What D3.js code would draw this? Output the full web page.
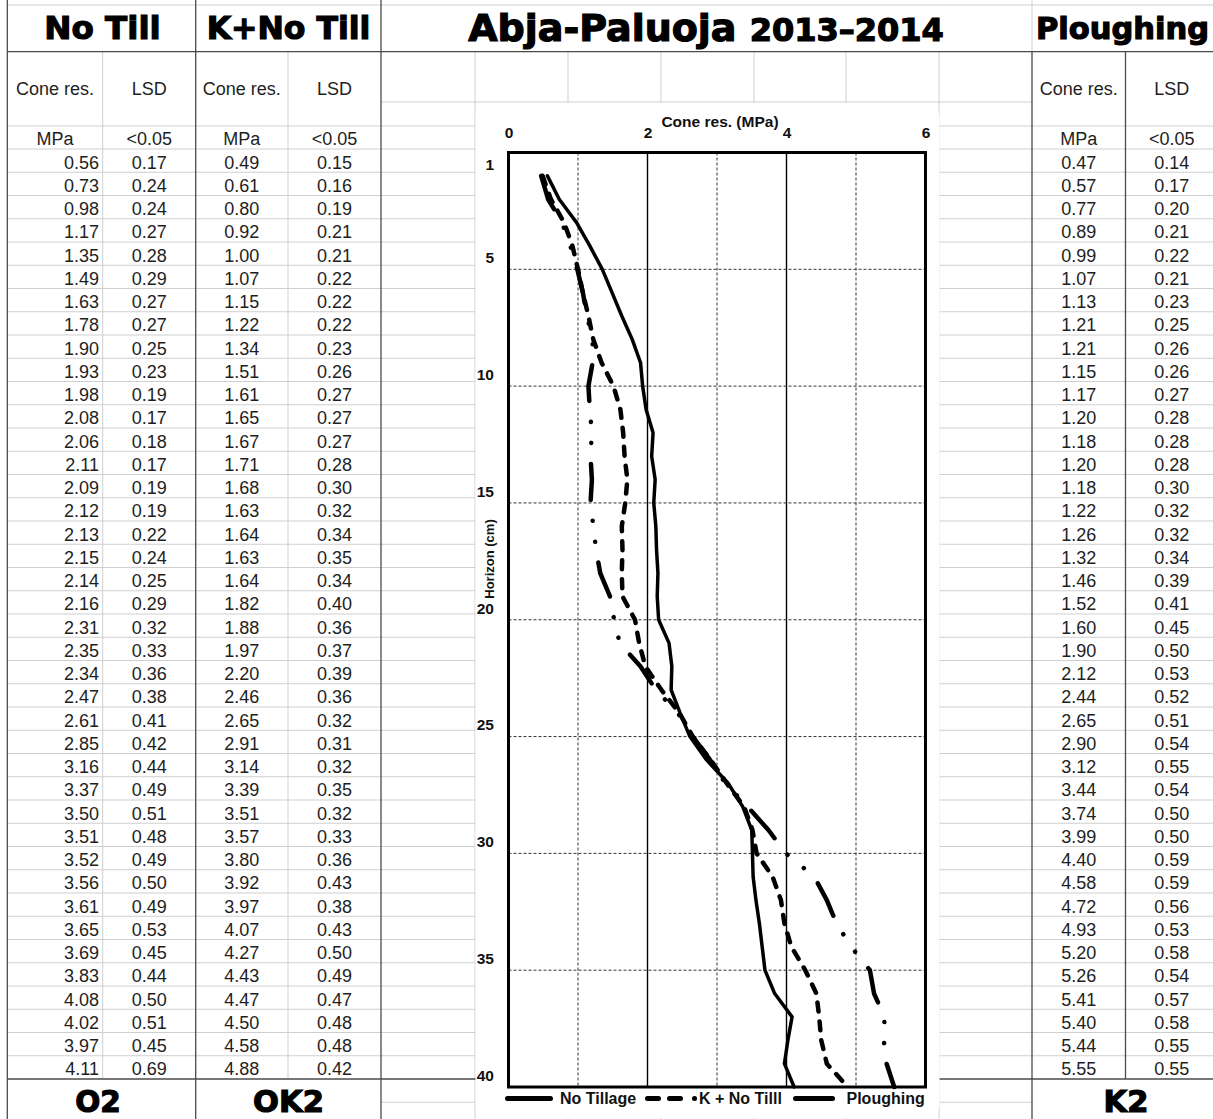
<!DOCTYPE html>
<html>
<head>
<meta charset="utf-8">
<script src="https://cdn.jsdelivr.net/npm/d3@7"></script>
<style>
  body { margin: 0; background: #fff; }
  .cell { font-family: "Liberation Sans", Arial, sans-serif; font-size: 18px; fill: #1e1e1e; }
  .head { font-family: "DejaVu Sans", sans-serif; font-weight: bold; fill: #000; stroke: #000; stroke-width: 1.2px; }
  .chartTxt { font-family: "Liberation Sans", Arial, sans-serif; font-weight: bold; fill: #111; }
</style>
</head>
<body>
<div id="sheet"></div>
<script>
// horizon (cm) for each table row
var horizon = [1,2,3,4,5,6,7,8,9,10,11,12,13,14,15,16,17,18,19,20,21,22,23,24,25,26,27,28,29,30,31,32,33,34,35,36,37,38,39,40];

var noTillCone = [0.56,0.73,0.98,1.17,1.35,1.49,1.63,1.78,1.90,1.93,1.98,2.08,2.06,2.11,2.09,2.12,2.13,2.15,2.14,2.16,2.31,2.35,2.34,2.47,2.61,2.85,3.16,3.37,3.50,3.51,3.52,3.56,3.61,3.65,3.69,3.83,4.08,4.02,3.97,4.11];
var noTillLSD = [0.17,0.24,0.24,0.27,0.28,0.29,0.27,0.27,0.25,0.23,0.19,0.17,0.18,0.17,0.19,0.19,0.22,0.24,0.25,0.29,0.32,0.33,0.36,0.38,0.41,0.42,0.44,0.49,0.51,0.48,0.49,0.50,0.49,0.53,0.45,0.44,0.50,0.51,0.45,0.69];

var kNoTillCone = [0.49,0.61,0.80,0.92,1.00,1.07,1.15,1.22,1.34,1.51,1.61,1.65,1.67,1.71,1.68,1.63,1.64,1.63,1.64,1.82,1.88,1.97,2.20,2.46,2.65,2.91,3.14,3.39,3.51,3.57,3.80,3.92,3.97,4.07,4.27,4.43,4.47,4.50,4.58,4.88];
var kNoTillLSD = [0.15,0.16,0.19,0.21,0.21,0.22,0.22,0.22,0.23,0.26,0.27,0.27,0.27,0.28,0.30,0.32,0.34,0.35,0.34,0.40,0.36,0.37,0.39,0.36,0.32,0.31,0.32,0.35,0.32,0.33,0.36,0.43,0.38,0.43,0.50,0.49,0.47,0.48,0.48,0.42];

var ploughCone = [0.47,0.57,0.77,0.89,0.99,1.07,1.13,1.21,1.21,1.15,1.17,1.20,1.18,1.20,1.18,1.22,1.26,1.32,1.46,1.52,1.60,1.90,2.12,2.44,2.65,2.90,3.12,3.44,3.74,3.99,4.40,4.58,4.72,4.93,5.20,5.26,5.41,5.40,5.44,5.55];
var ploughLSD = [0.14,0.17,0.20,0.21,0.22,0.21,0.23,0.25,0.26,0.26,0.27,0.28,0.28,0.28,0.30,0.32,0.32,0.34,0.39,0.41,0.45,0.50,0.53,0.52,0.51,0.54,0.55,0.54,0.50,0.50,0.59,0.59,0.56,0.53,0.58,0.54,0.57,0.58,0.55,0.55];

var xTicks = [0,2,4,6];
var yTicks = [1,5,10,15,20,25,30,35,40];
var legendNames = ["No Tillage", "K + No Tilll", "Ploughing"];

var W = 1213, H = 1119;
var colX = [7.3,102.7,195.7,288,381,475,568,661,754,846,939,1032,1125.5,1218];
var rowTop = 149, rowH = 23.25;
var lastY = rowTop + 40*rowH;   // 1079
var light = "#cfcfcf", dark = "#4a4a4a";

var svg = d3.select("#sheet")
  .append("svg")
    .attr("width", W)
    .attr("height", H);

// spreadsheet grid - light lines
var grid = svg.append("g");
grid.append("line").attr("x1", colX[0]).attr("x2", W).attr("y1", 5).attr("y2", 5)
  .attr("stroke", light);
var rowLines = [126];
for (var i = 0; i < 40; i++) rowLines.push(rowTop + i*rowH);
grid.selectAll("line.row")
  .data(rowLines)
  .enter().append("line")
    .attr("class", "row")
    .attr("x1", colX[0]).attr("x2", W)
    .attr("y1", function(d) { return d; })
    .attr("y2", function(d) { return d; })
    .attr("stroke", light);
[102, lastY + rowH].forEach(function(yy) {
  grid.append("line").attr("x1", colX[4]).attr("x2", colX[11]).attr("y1", yy).attr("y2", yy)
    .attr("stroke", light);
});
[1, 3].forEach(function(c) {
  grid.append("line").attr("x1", colX[c]).attr("x2", colX[c]).attr("y1", 52).attr("y2", lastY)
    .attr("stroke", light);
});
[5,6,7,8,9,10].forEach(function(c) {
  grid.append("line").attr("x1", colX[c]).attr("x2", colX[c]).attr("y1", 52).attr("y2", H)
    .attr("stroke", light);
});
grid.append("line").attr("x1", colX[11]).attr("x2", colX[11]).attr("y1", 0).attr("y2", 52)
  .attr("stroke", light);

// dark borders
var borders = svg.append("g").attr("stroke", dark).attr("stroke-width", 1.3);
[[colX[0],0,colX[0],H],[colX[2],0,colX[2],H],[colX[4],0,colX[4],H],
 [colX[11],52,colX[11],H],[colX[12],52,colX[12],lastY],
 [colX[0],51.7,W,51.7],[colX[0],lastY,W,lastY]].forEach(function(b) {
  borders.append("line").attr("x1", b[0]).attr("y1", b[1]).attr("x2", b[2]).attr("y2", b[3]);
});

// chart area covers the sheet
svg.append("rect")
  .attr("x", 475.5).attr("y", 103)
  .attr("width", 464).attr("height", 1015)
  .attr("rx", 14)
  .attr("fill", "#fff");

// headings
function head(txt, cx, cy, size) {
  svg.append("text")
    .attr("class", "head")
    .attr("x", cx).attr("y", cy)
    .attr("text-anchor", "middle")
    .style("font-size", size + "px")
    .text(txt);
}
head("No Till", 102.5, 39, 32.5);
head("K+No Till", 288.5, 39, 31.5);
head("Ploughing", 1122.5, 39, 30.5);
head("O2", 98, 1111.5, 29.5);
head("OK2", 288.5, 1111.5, 30.5);
head("K2", 1126, 1111.5, 30.5);

var title = svg.append("text")
  .attr("class", "head")
  .attr("x", 706).attr("y", 41)
  .attr("text-anchor", "middle");
title.append("tspan").style("font-size", "38px").text("Abja-Paluoja ");
title.append("tspan").style("font-size", "32px").text("2013\u20132014");

// tables
function table(cone, lsd, c0, rightAlign) {
  var g = svg.append("g").attr("class", "cell");
  var cx0 = (colX[c0] + colX[c0+1]) / 2, cx1 = (colX[c0+1] + colX[c0+2]) / 2;
  g.append("text").attr("x", cx0).attr("y", 95).attr("text-anchor", "middle").text("Cone res.");
  g.append("text").attr("x", cx1).attr("y", 95).attr("text-anchor", "middle").text("LSD");
  g.append("text").attr("x", cx0).attr("y", 145).attr("text-anchor", "middle").text("MPa");
  g.append("text").attr("x", cx1).attr("y", 145).attr("text-anchor", "middle").text("<0.05");
  g.selectAll("text.cone")
    .data(cone)
    .enter().append("text")
      .attr("class", "cone")
      .attr("x", rightAlign ? colX[c0+1] - 3.7 : cx0)
      .attr("y", function(d, i) { return rowTop + i*rowH + 19.5; })
      .attr("text-anchor", rightAlign ? "end" : "middle")
      .text(function(d) { return d.toFixed(2); });
  g.selectAll("text.lsd")
    .data(lsd)
    .enter().append("text")
      .attr("class", "lsd")
      .attr("x", cx1)
      .attr("y", function(d, i) { return rowTop + i*rowH + 19.5; })
      .attr("text-anchor", "middle")
      .text(function(d) { return d.toFixed(2); });
}
table(noTillCone, noTillLSD, 0, true);
table(kNoTillCone, kNoTillLSD, 2, false);
table(ploughCone, ploughLSD, 11, false);

// the chart
var x = d3.scaleLinear().domain([0, 6]).range([508.5, 925.5]);
var y = d3.scaleLinear().domain([0, 40]).range([152.5, 1087]);
var chart = svg.append("g");

// gridlines
chart.selectAll("line.vgrid")
  .data([1,2,3,4,5])
  .enter().append("line")
    .attr("x1", function(d) { return x(d); })
    .attr("x2", function(d) { return x(d); })
    .attr("y1", y(0)).attr("y2", y(40))
    .attr("stroke", function(d) { return d % 2 ? "#333" : "#000"; })
    .attr("stroke-width", function(d) { return d % 2 ? 1 : 1.4; })
    .attr("stroke-dasharray", function(d) { return d % 2 ? "3,2" : null; });
chart.selectAll("line.hgrid")
  .data([5,10,15,20,25,30,35])
  .enter().append("line")
    .attr("x1", x(0)).attr("x2", x(6))
    .attr("y1", function(d) { return y(d); })
    .attr("y2", function(d) { return y(d); })
    .attr("stroke", "#333")
    .attr("stroke-dasharray", "3,2");

// axes
var xAxis = chart.append("g")
  .attr("transform", "translate(0," + y(0) + ")")
  .call(d3.axisTop(x).tickValues(xTicks).tickFormat(d3.format("d")).tickSize(0).tickPadding(14.5));
var yAxis = chart.append("g")
  .attr("transform", "translate(" + x(0) + ",0)")
  .call(d3.axisLeft(y).tickValues(yTicks).tickFormat(d3.format("d")).tickSize(0).tickPadding(14.5));
xAxis.select(".domain").remove();
yAxis.select(".domain").remove();
chart.selectAll(".tick text")
  .attr("fill", "#111")
  .attr("font-family", "Liberation Sans, Arial, sans-serif")
  .attr("font-weight", "bold")
  .attr("font-size", "15.5px");
xAxis.attr("font-size", null).attr("font-family", null);
yAxis.attr("font-size", null).attr("font-family", null);
yAxis.selectAll(".tick text").attr("y", -(y(1) - y(0.5)));

// plot border
chart.append("rect")
  .attr("x", x(0)).attr("y", y(0))
  .attr("width", x(6) - x(0)).attr("height", y(40) - y(0))
  .attr("fill", "none")
  .attr("stroke", "#000")
  .attr("stroke-width", 3);

// axis titles
chart.append("text")
  .attr("class", "chartTxt")
  .attr("x", 720).attr("y", 127)
  .attr("text-anchor", "middle")
  .style("font-size", "15.5px")
  .text("Cone res. (MPa)");
chart.append("text")
  .attr("class", "chartTxt")
  .attr("transform", "translate(494,559) rotate(-90)")
  .attr("text-anchor", "middle")
  .style("font-size", "13px")
  .text("Horizon (cm)");

// the lines
var series = [
  {vals: noTillCone, dash: null, cap: "round", w: 3.5},
  {vals: kNoTillCone, dash: "9,10", cap: "round", w: 4.5},
  {vals: ploughCone, dash: "36,21,0.1,21,0.1,21", cap: "round", w: 4.5}
];
series.forEach(function(s) {
  chart.append("path")
    .datum(s.vals)
    .attr("fill", "none")
    .attr("stroke", "#000")
    .attr("stroke-width", s.w)
    .attr("stroke-linecap", s.cap)
    .attr("stroke-linejoin", "round")
    .attr("stroke-dasharray", s.dash)
    .attr("d", d3.line()
      .x(function(d) { return x(d); })
      .y(function(d, i) { return y(horizon[i]); })
    );
});

// legend
var leg = chart.append("g");
var legY = 1098.5;
var samples = [
  {x1: 507.5, x2: 550.5, dash: null, tx: 560},
  {x1: 647.5, x2: 695, dash: "11,11,11,14,0.1,100", tx: 699},
  {x1: 795.5, x2: 832.5, dash: null, tx: 846.5}
];
samples.forEach(function(s, i) {
  leg.append("line")
    .attr("x1", s.x1).attr("x2", s.x2)
    .attr("y1", legY).attr("y2", legY)
    .attr("stroke", "#000")
    .attr("stroke-width", 5)
    .attr("stroke-linecap", "round")
    .attr("stroke-dasharray", s.dash);
  leg.append("text")
    .attr("class", "chartTxt")
    .attr("x", s.tx).attr("y", 1104)
    .style("font-size", "16px")
    .text(legendNames[i]);
});
</script>
</body>
</html>
